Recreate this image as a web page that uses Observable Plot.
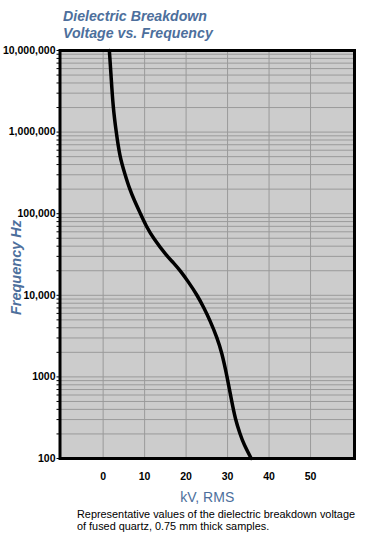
<!DOCTYPE html>
<html>
<head>
<meta charset="utf-8">
<script src="https://cdn.jsdelivr.net/npm/d3@7"></script>
<script src="https://cdn.jsdelivr.net/npm/@observablehq/plot@0.6"></script>
<style>
  html, body { margin: 0; padding: 0; background: #fff; }
  #wrap { position: relative; width: 368px; height: 541px; overflow: hidden; }
  #title { position: absolute; left: 63px; top: 7.3px; font-family: "Liberation Sans", Arial, sans-serif; font-weight: bold; font-style: italic; font-size: 15px; line-height: 17px; color: #4d6f9c; white-space: nowrap; transform-origin: 0 0; }
  #chart { position: absolute; left: 0; top: 44px; }
  #caption { position: absolute; left: 77px; top: 508.2px; font-family: "Liberation Sans", Arial, sans-serif; font-size: 11px; line-height: 12px; color: #000; white-space: nowrap; transform-origin: 0 0; }
  #title span, #caption span { display: inline-block; }
  #chart svg g[aria-label="y-axis tick label"] text,
  #chart svg g[aria-label="x-axis tick label"] text { font-weight: bold; }
</style>
</head>
<body>
<div id="wrap">
  <div id="title"><span id="t1">Dielectric Breakdown</span><br><span>Voltage vs. Frequency</span></div>
  <div id="chart"></div>
  <div id="caption"><span id="c1">Representative values of the dielectric breakdown voltage</span><br><span>of fused quartz, 0.75 mm thick samples.</span></div>
</div>
<script>
// ---- data ----
const freqTicks = [100, 1000, 10000, 100000, 1000000, 10000000];
const freqTickLabels = ["100", "1000", "10,000", "100,000", "1,000,000", "10,000,000"];
const kvTicks = [0, 10, 20, 30, 40, 50];
const kvTickLabels = ["0", "10", "20", "30", "40", "50"];
const minorMultipliers = [2, 3, 4, 5, 6, 7, 8, 9];

// breakdown curve: frequency (Hz) and voltage (kV RMS)
const curveHz = [10000000, 5000000, 2000000, 1000000, 500000, 300000, 200000, 150000, 100000, 70000, 50000, 30000, 25000, 20000, 15000, 10000, 7000, 5000, 3000, 2000, 1000, 500, 300, 200, 150, 100];
const curveKV = [1.5, 1.9, 2.4, 3.15, 4.0, 5.3, 6.4, 7.4, 9.0, 10.4, 12.1, 15.4, 17.0, 18.6, 20.4, 22.7, 24.3, 25.7, 27.5, 28.6, 29.9, 31.0, 31.9, 33.0, 33.9, 35.7];

const xLabel = "kV, RMS";
const yLabel = "Frequency Hz";

// ---- build ----
const curve = curveHz.map((hz, i) => ({hz, kv: curveKV[i]}));
const minorHz = freqTicks.slice(0, -1).flatMap(d => minorMultipliers.map(m => m * d));
const gridHz = freqTicks.concat(minorHz);
const yLab = new Map(freqTicks.map((d, i) => [d, freqTickLabels[i]]));
const xLab = new Map(kvTicks.map((d, i) => [d, kvTickLabels[i]]));

const blue = "#4d6f9c";
const sans = "'Liberation Sans', Arial, sans-serif";

const chart = Plot.plot({
  width: 368,
  height: 461,
  marginTop: 6,
  marginBottom: 47,
  marginLeft: 59.5,
  marginRight: 14,
  style: {fontFamily: sans, fontSize: "10.5px", color: "#000", background: "transparent", overflow: "visible"},
  x: {domain: [-10.4, 60.6]},
  y: {type: "log", domain: [100, 10000000]},
  marks: [
    Plot.frame({fill: "#cccccc"}),
    Plot.ruleY(gridHz, {stroke: "#9a9a9a", strokeWidth: 1}),
    Plot.ruleX(kvTicks, {stroke: "#9a9a9a", strokeWidth: 1}),
    Plot.axisY({ticks: minorHz, tickSize: 3, tickFormat: () => "", label: null, stroke: "#000"}),
    Plot.axisY({ticks: freqTicks, tickSize: 3, tickPadding: 1.5, tickFormat: d => yLab.get(d), label: null, stroke: "#000"}),
    Plot.axisX({ticks: kvTicks, tickSize: 0, tickPadding: 14.5, tickFormat: d => xLab.get(d), label: null}),
    Plot.line(curve, {x: "kv", y: "hz", curve: "basis", stroke: "#000", strokeWidth: 3.5}),
    Plot.frame({stroke: "#000", strokeWidth: 3}),
    Plot.text([yLabel], {ariaLabel: "ylabel", frameAnchor: "left", text: d => d, rotate: -90, dx: -43.5, dy: 13, textAnchor: "middle", lineAnchor: "middle", fill: blue, fontSize: 14.5, fontWeight: "bold", fontStyle: "italic"}),
    Plot.text([xLabel], {ariaLabel: "xlabel", frameAnchor: "bottom", text: d => d, dy: 39, textAnchor: "middle", lineAnchor: "middle", fill: blue, fontSize: 14})
  ]
});
document.getElementById("chart").append(chart);

// condense label texts to the reference's condensed widths
function squeeze(sel, len) {
  const t = chart.querySelector(sel);
  if (t && t.getComputedTextLength() > len) {
    t.setAttribute("textLength", len);
    t.setAttribute("lengthAdjust", "spacingAndGlyphs");
  }
}
squeeze('g[aria-label="ylabel"] text', 81);
squeeze('g[aria-label="xlabel"] text', 49);

// condense the HTML title and caption to the reference widths
function fit(boxId, lineId, target) {
  const w = document.getElementById(lineId).getBoundingClientRect().width;
  if (w > 0) document.getElementById(boxId).style.transform = `scaleX(${target / w})`;
}
fit("title", "t1", 144);
fit("caption", "c1", 278);
</script>
</body>
</html>
